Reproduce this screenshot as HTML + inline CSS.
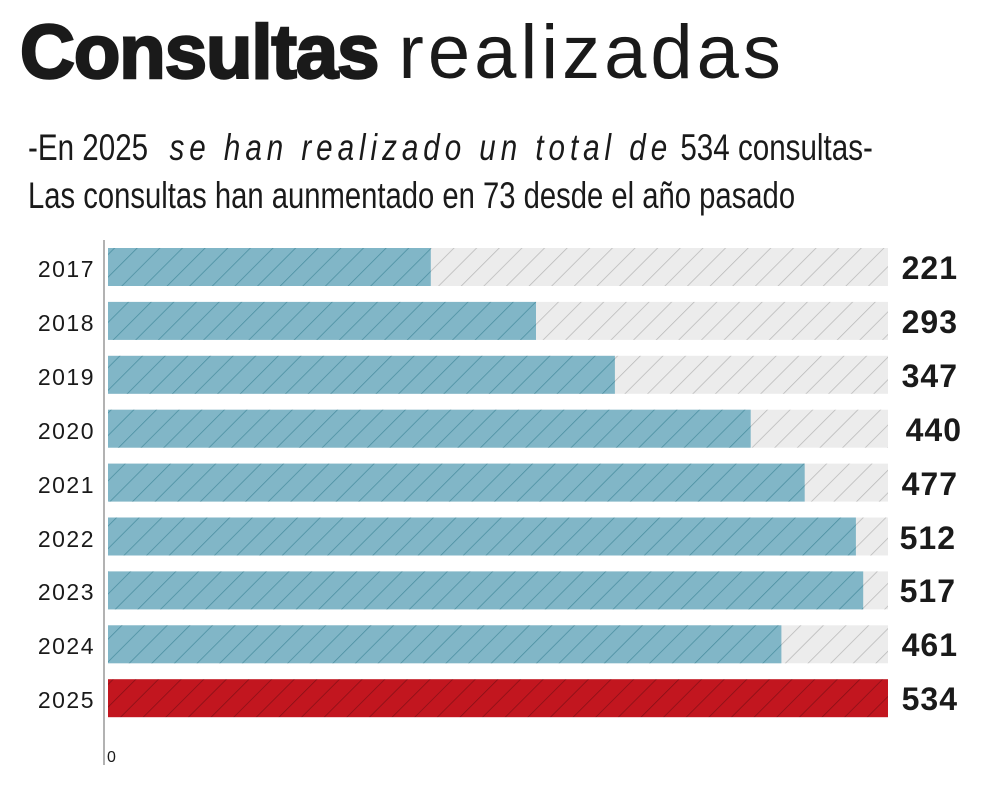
<!DOCTYPE html>
<html><head><meta charset="utf-8"><style>
body{margin:0;width:981px;height:806px;background:#fff;overflow:hidden;font-family:"Liberation Sans",sans-serif;color:#1a1a1a}
.t{position:absolute;white-space:nowrap}
</style></head><body>
<div class="t" style="left:20px;top:8px;font-size:76px;line-height:90px;letter-spacing:-1px"><span style="font-weight:900;-webkit-text-stroke:2.5px #1a1a1a">Consultas</span> <span style="letter-spacing:4px">realizadas</span></div>
<div class="t" style="left:28px;top:126px;font-size:37px;line-height:44px;transform:scaleX(0.8);transform-origin:0 0">-En 2025 <i style="letter-spacing:6.2px">&nbsp;se han realizado un total de</i> 534 consultas-</div>
<div class="t" style="left:28px;top:174px;font-size:37px;line-height:44px;transform:scaleX(0.79);transform-origin:0 0">Las consultas han aunmentado en 73 desde el año pasado</div>
<svg width="981" height="806" style="position:absolute;left:0;top:0">
<defs>
<pattern id="pb" width="16" height="16" patternUnits="userSpaceOnUse" patternTransform="rotate(45)"><rect width="16" height="16" fill="#81b6c7"/><line x1="0" y1="0" x2="0" y2="16" stroke="#4a8ea0" stroke-width="1.5"/></pattern>
<pattern id="pg" width="16" height="16" patternUnits="userSpaceOnUse" patternTransform="rotate(45)"><rect width="16" height="16" fill="#ececec"/><line x1="0" y1="0" x2="0" y2="16" stroke="#b8b8b8" stroke-width="1.5"/></pattern>
<pattern id="pr" width="16" height="16" patternUnits="userSpaceOnUse" patternTransform="rotate(45)"><rect width="16" height="16" fill="#c2161f"/><line x1="0" y1="0" x2="0" y2="16" stroke="#860f16" stroke-width="1.5"/></pattern>
</defs>
<line x1="104" y1="240" x2="104" y2="765" stroke="#999" stroke-width="1.5"/>
<g>
<rect x="108" y="248" width="780" height="38" fill="url(#pg)"/><rect x="108" y="248" width="322.8" height="38" fill="url(#pb)"/>
<rect x="108" y="301.9" width="780" height="38" fill="url(#pg)"/><rect x="108" y="301.9" width="428" height="38" fill="url(#pb)"/>
<rect x="108" y="355.8" width="780" height="38" fill="url(#pg)"/><rect x="108" y="355.8" width="506.9" height="38" fill="url(#pb)"/>
<rect x="108" y="409.7" width="780" height="38" fill="url(#pg)"/><rect x="108" y="409.7" width="642.7" height="38" fill="url(#pb)"/>
<rect x="108" y="463.6" width="780" height="38" fill="url(#pg)"/><rect x="108" y="463.6" width="696.7" height="38" fill="url(#pb)"/>
<rect x="108" y="517.5" width="780" height="38" fill="url(#pg)"/><rect x="108" y="517.5" width="747.9" height="38" fill="url(#pb)"/>
<rect x="108" y="571.4" width="780" height="38" fill="url(#pg)"/><rect x="108" y="571.4" width="755.2" height="38" fill="url(#pb)"/>
<rect x="108" y="625.3" width="780" height="38" fill="url(#pg)"/><rect x="108" y="625.3" width="673.4" height="38" fill="url(#pb)"/>
<rect x="108" y="679.2" width="780" height="38" fill="url(#pr)"/>
</g>
<g font-size="23" font-family="Liberation Sans, sans-serif" fill="#1a1a1a" text-anchor="end" letter-spacing="1.5">
<text x="95" y="277">2017</text><text x="95" y="331">2018</text><text x="95" y="385">2019</text>
<text x="95" y="439">2020</text><text x="95" y="493">2021</text><text x="95" y="547">2022</text>
<text x="95" y="600">2023</text><text x="95" y="654">2024</text><text x="95" y="708">2025</text>
</g>
<g font-size="32" font-weight="bold" font-family="Liberation Sans, sans-serif" fill="#1a1a1a" text-anchor="end" letter-spacing="1">
<text x="958" y="279">221</text><text x="958" y="333">293</text><text x="958" y="387">347</text>
<text x="962" y="441">440</text><text x="958" y="495">477</text><text x="956" y="549">512</text>
<text x="956" y="602">517</text><text x="958" y="656">461</text><text x="958" y="710">534</text>
</g>
<text x="107" y="762" font-size="16" fill="#1a1a1a">0</text>
</svg>
</body></html>
